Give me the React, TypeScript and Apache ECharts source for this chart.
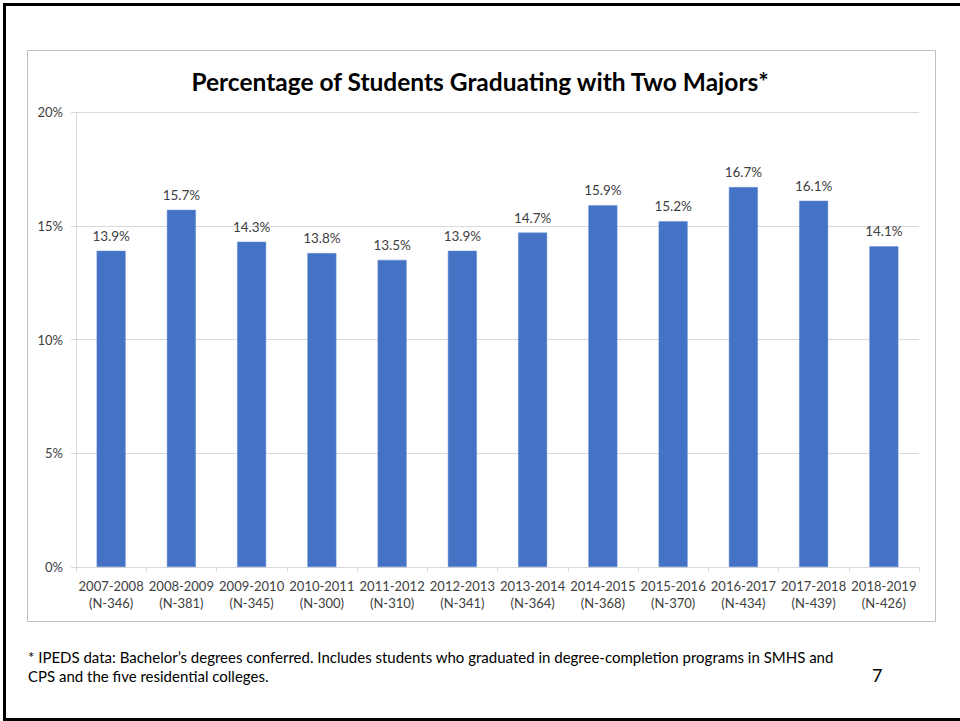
import React, { useEffect, useRef } from "react";
import * as echarts from "echarts";

const categories = [
  "2007-2008\n(N-346)",
  "2008-2009\n(N-381)",
  "2009-2010\n(N-345)",
  "2010-2011\n(N-300)",
  "2011-2012\n(N-310)",
  "2012-2013\n(N-341)",
  "2013-2014\n(N-364)",
  "2014-2015\n(N-368)",
  "2015-2016\n(N-370)",
  "2016-2017\n(N-434)",
  "2017-2018\n(N-439)",
  "2018-2019\n(N-426)",
];
const values = [13.9, 15.7, 14.3, 13.8, 13.5, 13.9, 14.7, 15.9, 15.2, 16.7, 16.1, 14.1];
const yMin = 0;
const yMax = 20;
const yInterval = 5;

const title = "Percentage of Students Graduating with Two Majors*";
const footnoteLines = [
  "* IPEDS data: Bachelor\u2019s degrees conferred. Includes students who graduated in degree-completion programs in SMHS and",
  "CPS and the five residential colleges.",
];
const pageNumber = "7";

const FONT = "Lato, 'Open Sans', sans-serif";

export default function App() {
  const ref = useRef<HTMLDivElement>(null);
  useEffect(() => {
    document.body.style.margin = "0";
    if (!ref.current) return;
    const chart = echarts.init(ref.current, undefined, { renderer: "svg" });
    chart.setOption({
      animation: false,
      backgroundColor: "#ffffff",
      textStyle: { fontFamily: FONT },
      title: {
        text: title,
        left: "center",
        top: 64,
        textStyle: { fontFamily: FONT, fontWeight: "bold", fontSize: 24.5, color: "#000000" },
      },
      grid: { left: 76, right: 41, top: 112, bottom: 154, containLabel: false },
      xAxis: {
        type: "category",
        data: categories,
        axisLine: { show: true, lineStyle: { color: "#d9d9d9", width: 1 } },
        axisTick: { show: true, length: 5, lineStyle: { color: "#d9d9d9" } },
        axisLabel: { color: "#404040", fontSize: 13, lineHeight: 17, margin: 10, interval: 0, fontFamily: FONT },
      },
      yAxis: {
        type: "value",
        min: yMin,
        max: yMax,
        interval: yInterval,
        axisLine: { show: true, lineStyle: { color: "#d9d9d9", width: 1 } },
        axisTick: { show: true, length: 5, lineStyle: { color: "#d9d9d9" } },
        axisLabel: { formatter: "{value}%", color: "#404040", fontSize: 13, margin: 13, fontFamily: FONT },
        splitLine: { show: true, lineStyle: { color: "#d9d9d9", width: 1 } },
      },
      series: [
        {
          type: "bar",
          data: values,
          barWidth: 29,
          itemStyle: { color: "#4472C4", borderColor: "#6a8fd2", borderWidth: 0.5 },
          label: {
            show: true,
            position: "top",
            distance: 8,
            formatter: "{c}%",
            color: "#404040",
            fontSize: 13.5,
            fontFamily: FONT,
          },
        },
      ],
      graphic: [
        {
          type: "rect",
          shape: { x: 27.5, y: 50.5, width: 908, height: 571 },
          style: { fill: "none", stroke: "#bfbfbf", lineWidth: 1 },
          silent: true,
        },
        {
          type: "line",
          shape: { x1: 3, y1: 4.5, x2: 960, y2: 4.5 },
          style: { stroke: "#000000", lineWidth: 3 },
        },
        {
          type: "line",
          shape: { x1: 4.5, y1: 3, x2: 4.5, y2: 721 },
          style: { stroke: "#000000", lineWidth: 3 },
        },
        {
          type: "line",
          shape: { x1: 3, y1: 719.5, x2: 960, y2: 719.5 },
          style: { stroke: "#000000", lineWidth: 3 },
        },
        {
          type: "text",
          left: 28,
          top: 647,
          style: {
            text: footnoteLines.join("\n"),
            font: `15px ${FONT}`,
            lineHeight: 19,
            fill: "#000000",
          },
        },
        {
          type: "text",
          left: 872,
          top: 666,
          style: { text: pageNumber, font: `18px ${FONT}`, fill: "#000000" },
        },
      ],
    });
    return () => chart.dispose();
  }, []);
  return <div ref={ref} style={{ width: 960, height: 721 }} />;
}
